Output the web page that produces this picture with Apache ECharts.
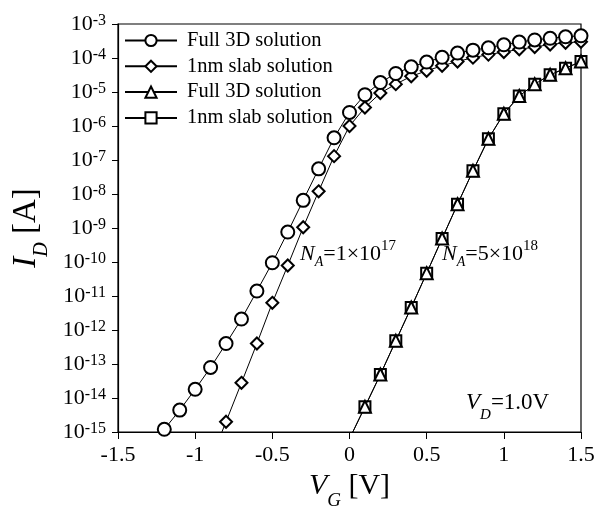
<!DOCTYPE html>
<html>
<head>
<meta charset="utf-8">
<script src="https://cdn.jsdelivr.net/npm/echarts@6/dist/echarts.min.js"></script>
<style>
  html, body { margin: 0; padding: 0; background: #fff; }
  #chart { width: 605px; height: 508px; }
</style>
</head>
<body>
<div id="chart"></div>
<script>
// N_A = 1e17, gate voltages and drain current
const vgLow3D = [-1.2, -1.1, -1.0, -0.9, -0.8, -0.7, -0.6, -0.5, -0.4, -0.3, -0.2, -0.1, 0,
    0.1, 0.2, 0.3, 0.4, 0.5, 0.6, 0.7, 0.8, 0.9, 1.0, 1.1, 1.2, 1.3, 1.4, 1.5];
const idLow3D = [1.2e-15, 4.4e-15, 1.8e-14, 7.9e-14, 4.0e-13, 2.1e-12, 1.4e-11, 9.5e-11, 7.6e-10, 6.5e-9, 5.5e-8, 4.5e-7, 2.5e-6,
    8.3e-6, 1.9e-5, 3.5e-5, 5.5e-5, 7.6e-5, 1.05e-4, 1.4e-4, 1.7e-4, 2.0e-4, 2.45e-4, 2.95e-4, 3.4e-4, 3.8e-4, 4.2e-4, 4.5e-4];

const vgLowSlab = [-0.9, -0.8, -0.7, -0.6, -0.5, -0.4, -0.3, -0.2, -0.1, 0,
    0.1, 0.2, 0.3, 0.4, 0.5, 0.6, 0.7, 0.8, 0.9, 1.0, 1.1, 1.2, 1.3, 1.4, 1.5];
const idLowSlab = [1.5e-16, 2.0e-15, 2.8e-14, 4.0e-13, 6.3e-12, 7.9e-11, 1.05e-9, 1.2e-8, 1.3e-7, 1.0e-6,
    3.5e-6, 9.3e-6, 1.7e-5, 2.9e-5, 4.2e-5, 5.9e-5, 7.9e-5, 1.02e-4, 1.26e-4, 1.5e-4, 1.8e-4, 2.1e-4, 2.5e-4, 2.8e-4, 3.0e-4];

// N_A = 5e18
const vgHigh = [0, 0.1, 0.2, 0.3, 0.4, 0.5, 0.6, 0.7, 0.8, 0.9, 1.0, 1.1, 1.2, 1.3, 1.4, 1.5];
const idHigh3D = [6.3e-16, 5.5e-15, 4.9e-14, 4.8e-13, 4.6e-12, 4.7e-11, 4.9e-10, 5.0e-9, 4.8e-8, 4.2e-7,
    2.3e-6, 7.6e-6, 1.7e-5, 3.2e-5, 5.0e-5, 7.9e-5];
const idHighSlab = [6.3e-16, 5.5e-15, 4.9e-14, 4.8e-13, 4.6e-12, 4.7e-11, 4.9e-10, 5.0e-9, 4.8e-8, 4.2e-7,
    2.3e-6, 7.6e-6, 1.7e-5, 3.2e-5, 5.0e-5, 7.9e-5];

const seriesNames = ['Full 3D solution', '1nm slab solution', 'Full 3D solution ', '1nm slab solution '];
const xTicks = [-1.5, 1.5, 0.5];
const yRange = [1e-15, 1e-3];

const FONT = 'Liberation Serif';

function pairs(xs, ys) {
    return xs.map(function (x, i) { return [x, ys[i]]; });
}

function curve(name, xs, ys, symbol, size, z) {
    return {
        name: name,
        type: 'line',
        data: pairs(xs, ys),
        symbol: symbol,
        symbolSize: size,
        clip: true,
        z: z,
        lineStyle: { color: '#000', width: 1 },
        itemStyle: { color: '#000', borderColor: '#000', borderWidth: 1.3 },
        emphasis: { disabled: true },
        animation: false,
    };
}

// rich styles for the in-plot notes
const noteRich = {
    i: { fontFamily: FONT, fontSize: 22, fontStyle: 'italic', fill: '#000', lineHeight: 26, verticalAlign: 'bottom' },
    s: { fontFamily: FONT, fontSize: 14, fontStyle: 'italic', fill: '#000', lineHeight: 16, verticalAlign: 'bottom', padding: [0, 0, -4, 0] },
    n: { fontFamily: FONT, fontSize: 22, fill: '#000', lineHeight: 26, verticalAlign: 'bottom' },
    p: { fontFamily: FONT, fontSize: 15, fill: '#000', lineHeight: 14, verticalAlign: 'top' },
};

const chart = echarts.init(document.getElementById('chart'));

chart.setOption({
    backgroundColor: '#fff',
    animation: false,
    textStyle: { fontFamily: FONT, color: '#000' },
    grid: {
        left: 118, right: 24, top: 24, bottom: 76,
        outerBoundsMode: 'none',
        containLabel: false,
        show: true, borderColor: '#000', borderWidth: 1.2,
    },
    legend: {
        data: seriesNames,
        orient: 'vertical',
        left: 124, top: 30,
        padding: 0,
        itemWidth: 52, itemHeight: 14, itemGap: 4.8,
        textStyle: { fontFamily: FONT, fontSize: 20.5, lineHeight: 14, color: '#000', padding: [0, 0, 0, 5] },
        formatter: function (n) { return n.trim(); },
    },
    xAxis: {
        type: 'value',
        min: xTicks[0], max: xTicks[1], interval: xTicks[2],
        splitLine: { show: false },
        axisLine: { onZero: false, lineStyle: { color: '#000', width: 1.2 } },
        axisTick: { length: 7, lineStyle: { color: '#000' } },
        axisLabel: { fontFamily: FONT, fontSize: 22, color: '#000', margin: 12 },
        name: '{v|V}{s|G}{n| [V]}',
        nameLocation: 'middle',
        nameGap: 38,
        nameTextStyle: {
            rich: {
                v: { fontFamily: FONT, fontSize: 30, fontStyle: 'italic', color: '#000', lineHeight: 32, verticalAlign: 'top' },
                s: { fontFamily: FONT, fontSize: 19, fontStyle: 'italic', color: '#000', lineHeight: 20, verticalAlign: 'bottom', padding: [0, 0, -8, 0] },
                n: { fontFamily: FONT, fontSize: 30, color: '#000', lineHeight: 32, verticalAlign: 'top' },
            },
        },
    },
    yAxis: {
        type: 'log',
        logBase: 10,
        min: yRange[0], max: yRange[1], interval: 1,
        splitLine: { show: false },
        minorTick: { show: false },
        axisLine: { show: true, onZero: false, lineStyle: { color: '#000', width: 1.2 } },
        axisTick: { length: 6, lineStyle: { color: '#000' } },
        axisLabel: {
            margin: 12,
            formatter: function (v) {
                return '{b|10}{s|' + Math.round(Math.log10(v)) + '}';
            },
            rich: {
                b: { fontFamily: FONT, fontSize: 22, color: '#000', lineHeight: 22, verticalAlign: 'bottom' },
                s: { fontFamily: FONT, fontSize: 16, color: '#000', lineHeight: 10, verticalAlign: 'top' },
            },
        },
        name: '{i|I}{s|D}{n| [A]}',
        nameLocation: 'middle',
        nameGap: 72,
        nameTextStyle: {
            rich: {
                i: { fontFamily: FONT, fontSize: 33, fontStyle: 'italic', color: '#000', lineHeight: 34, verticalAlign: 'top' },
                s: { fontFamily: FONT, fontSize: 20, fontStyle: 'italic', color: '#000', lineHeight: 20, verticalAlign: 'bottom', padding: [0, 0, -8, 0] },
                n: { fontFamily: FONT, fontSize: 33, color: '#000', lineHeight: 34, verticalAlign: 'top' },
            },
        },
    },
    graphic: [
        {
            type: 'text', left: 300, top: 239, silent: true,
            style: { text: '{i|N}{s|A}{n|=1×10}{p|17}', rich: noteRich },
        },
        {
            type: 'text', left: 442, top: 239, silent: true,
            style: { text: '{i|N}{s|A}{n|=5×10}{p|18}', rich: noteRich },
        },
        {
            type: 'text', left: 466, top: 391, silent: true,
            style: {
                text: '{i|V}{s|D}{n|=1.0V}',
                rich: {
                    i: { fontFamily: FONT, fontSize: 23, fontStyle: 'italic', fill: '#000', lineHeight: 26, verticalAlign: 'top' },
                    s: { fontFamily: FONT, fontSize: 15, fontStyle: 'italic', fill: '#000', lineHeight: 16, verticalAlign: 'bottom', padding: [0, 0, -6, 0] },
                    n: { fontFamily: FONT, fontSize: 23, fill: '#000', lineHeight: 26, verticalAlign: 'top' },
                },
            },
        },
    ],
    series: [
        curve(seriesNames[0], vgLow3D, idLow3D, 'emptyCircle', 13, 5),
        curve(seriesNames[1], vgLowSlab, idLowSlab, 'emptyDiamond', 12, 4),
        curve(seriesNames[2], vgHigh, idHigh3D, 'emptyTriangle', 12, 3),
        curve(seriesNames[3], vgHigh, idHighSlab, 'emptyRect', 11, 2),
    ],
});
</script>
</body>
</html>
